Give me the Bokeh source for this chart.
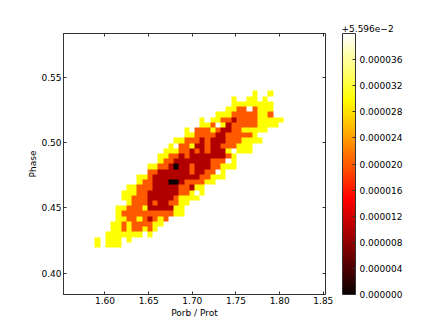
import numpy as np
from bokeh.embed import file_html
from bokeh.resources import INLINE
from bokeh.plotting import figure
from bokeh.models import (LinearColorMapper, ColorBar, FixedTicker, LinearAxis,
                          NumeralTickFormatter, Range1d, Title)

x_range = (1.5525, 1.8525)
y_range = (0.3837, 0.5837)
n_bins = 50
x_ticks = [1.60, 1.65, 1.70, 1.75, 1.80, 1.85]
y_ticks = [0.40, 0.45, 0.50, 0.55]
bar_ticks = [0, 4e-6, 8e-6, 12e-6, 16e-6, 20e-6, 24e-6, 28e-6, 32e-6, 36e-6]
vmax = 40e-6
offset_text = "+5.596e\u22122"
levels = {"K": 0.0, "D": 10e-6, "O": 20e-6, "Y": 29.9e-6, "W": 40e-6}

# Cell levels by phase bin (from the top): letter + porb bin range
first_phase_bin = 38
phase_rows = [
    "Y36 Y39",
    "Y32 Y35-36 Y38",
    "Y32-39",
    "Y31-32 O33-34 W35 O36 Y37-39",
    "Y29-31 O32-36 Y37-38 O39",
    "Y26 Y28-29 O30-31 D32 O33-36 Y37-41",
    "Y26-27 O28 W29 Y30 D31 O32-36 Y37-40",
    "Y23 O25-27 Y28 O29 D30-31 O32-33 Y34-38",
    "Y23-24 O25-28 D29-30 O31-35 Y36",
    "Y21-22 O23-25 D26 O27 D28-30 O31-33 Y34-37",
    "Y20 W21 O22-23 Y24 D25-26 O27 D28-29 O30-32 Y33-35",
    "Y19-21 O22-23 D24 O25 D26 O27 D28-30 Y31 W32 Y33-35",
    "Y18-19 O20-21 D22 O23 D24-30 O31 Y32",
    "Y18 O19-20 D21-27 O28-30 W31 Y32",
    "Y16-17 O18-19 D20 K21 D22-23 O24 D25-27 O28-29 Y30-32",
    "O16-17 D18-23 O24 D25-26 O27-28 W29 Y30",
    "Y14-15 O16 D17-25 O26-27 Y28-30",
    "Y14 O15-16 D17-19 K20-21 D22 O23-26 Y27-28",
    "Y12-13 O14-16 D17-21 O22-23 D24 Y25-26",
    "Y11-13 O14-15 D16-21 O22-23 Y24 W25 Y26",
    "Y11-12 O13-15 D16-20 O21 Y22-25",
    "Y12 O13-15 D16 O17 D18-19 O20-21 Y22-23",
    "Y10-11 O12-14 Y15 D16-20 Y21-22",
    "Y10 O11-20 Y21-22",
    "Y10-11 O12-13 Y14 O15 D16 O17 Y18 O19",
    "Y9-10 O11 Y12 O13-16 Y17-18",
    "Y9-10 O11 Y12 O13-14 Y15 O16 Y17",
    "Y8-14 Y16",
    "Y6 Y8-10 Y12",
    "Y6 Y8-10",
]

grid = np.full((n_bins, n_bins), np.nan)
for i, row in enumerate(phase_rows):
    for run in row.split():
        a, _, b = run[1:].partition("-")
        grid[first_phase_bin - i, int(a):int(b or a) + 1] = levels[run[0]]


def hot(f):
    r = np.clip(0.0416 + (1 - 0.0416) * f / 0.365, 0, 1)
    g = np.clip((f - 0.365) / 0.381, 0, 1)
    b = np.clip((f - 0.746) / 0.254, 0, 1)
    return "#%02x%02x%02x" % (round(r * 255), round(g * 255), round(b * 255))


image_palette = [hot(i / 255) for i in range(256)]
mapper = LinearColorMapper(palette=image_palette, low=0, high=vmax, nan_color=(0, 0, 0, 0))

FONT = "DejaVu Sans"
SIZE = "9px"
EDGE = "#333333"

p = figure(frame_width=262, frame_height=261, output_backend="svg", toolbar_location=None,
           x_range=Range1d(*x_range), y_range=Range1d(*y_range),
           x_axis_label="Porb / Prot", y_axis_label="Phase",
           min_border_left=63, min_border_top=33, min_border_bottom=30, min_border_right=100)
p.background_fill_color = "white"
p.border_fill_color = "white"
p.grid.visible = False
p.outline_line_color = EDGE
p.image(image=[grid], x=x_range[0], y=y_range[0],
        dw=x_range[1] - x_range[0], dh=y_range[1] - y_range[0], color_mapper=mapper)

for ax, ticks in ((p.xaxis[0], x_ticks), (p.yaxis[0], y_ticks)):
    ax.ticker = FixedTicker(ticks=ticks)
    ax.major_tick_in = 3
    ax.major_tick_out = 0
    ax.minor_tick_in = 0
    ax.minor_tick_out = 0
    ax.axis_line_color = EDGE
    ax.major_tick_line_color = EDGE
    ax.major_label_text_font = FONT
    ax.major_label_text_font_size = SIZE
    ax.major_label_text_color = "black"
    ax.axis_label_text_font = FONT
    ax.axis_label_text_font_size = SIZE
    ax.axis_label_text_font_style = "normal"
    ax.axis_label_text_color = "black"
p.xaxis[0].formatter = NumeralTickFormatter(format="0.00")
p.yaxis[0].formatter = NumeralTickFormatter(format="0.00")
p.xaxis[0].major_label_standoff = 2
p.xaxis[0].axis_label_standoff = 1
p.yaxis[0].major_label_standoff = 2
p.yaxis[0].axis_label_standoff = 0

for place, ticks in (("above", x_ticks), ("right", y_ticks)):
    m = LinearAxis(ticker=FixedTicker(ticks=ticks), major_tick_in=3, major_tick_out=0,
                   minor_tick_in=0, minor_tick_out=0,
                   major_label_overrides={t: "" for t in ticks},
                   major_label_standoff=0, axis_line_color=EDGE, major_tick_line_color=EDGE)
    p.add_layout(m, place)

cb = ColorBar(color_mapper=mapper, ticker=FixedTicker(ticks=bar_ticks),
              formatter=NumeralTickFormatter(format="0.000000"),
              location=(279, 0), width=13, height=261, padding=0, margin=0,
              major_tick_in=3, major_tick_line_color=EDGE, minor_tick_line_color=None,
              bar_line_color=EDGE, major_label_text_font=FONT, major_label_text_font_size=SIZE,
              major_label_text_color="black", label_standoff=4, background_fill_alpha=0)
p.add_layout(cb)

p.title = Title(text=offset_text, align="left", offset=278, standoff=3,
                text_font=FONT, text_font_size=SIZE, text_color="black", text_font_style="normal")

open("out.html", "w").write(file_html(p, INLINE))
